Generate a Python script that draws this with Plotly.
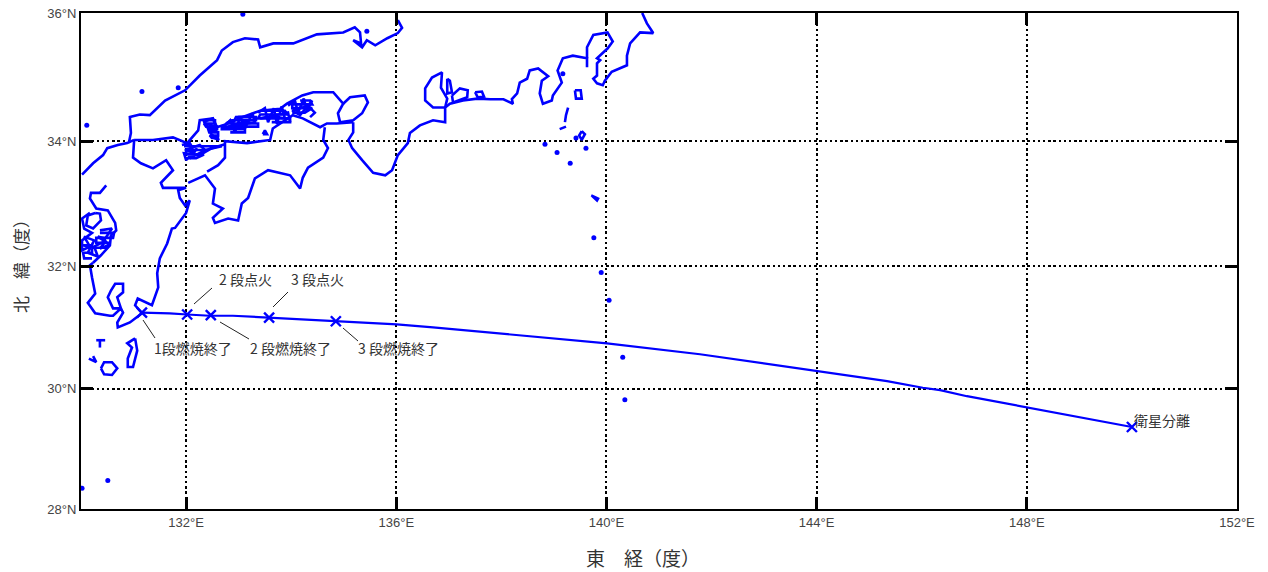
import math
import plotly.graph_objects as go

# Coast segments (longitude, latitude in degrees)
nw_kyushu_lon = [130.02,130.23,130.42,130.50,130.70,130.88,131.01]
nw_kyushu_lat = [33.47,33.65,33.78,33.89,33.94,33.97,34.02]
sanin_lon = [130.91,130.95,130.93,131.12,131.31,131.60,131.98,132.26,132.59,132.68,132.89,133.12,133.37,133.41,133.66,134.04,134.49,134.99,135.21,135.31,135.33,135.18,135.35,135.44,135.60,135.83,136.03,136.11,136.03]
sanin_lat = [33.97,34.13,34.38,34.42,34.41,34.64,34.80,35.03,35.27,35.42,35.55,35.61,35.59,35.47,35.53,35.53,35.67,35.70,35.78,35.70,35.53,35.58,35.47,35.58,35.50,35.61,35.69,35.77,35.89]
sanyo_lon = [131.01,131.37,131.75,132.02,132.23,132.26,132.51,132.59,132.70,133.08,133.41,133.79,133.92,134.21,134.42,134.80,134.99,134.89,134.93]
sanyo_lat = [34.02,34.02,34.06,33.97,34.17,34.33,34.36,34.22,34.25,34.38,34.48,34.51,34.59,34.72,34.77,34.77,34.59,34.44,34.30]
awaji_lon = [134.99,135.12,135.40,135.46,135.35,135.18,134.93]
awaji_lat = [34.59,34.69,34.72,34.61,34.44,34.33,34.30]
south_lon = [135.18,135.18,135.09,135.16,135.35,135.56,135.79,135.92,136.03,136.22,136.26,136.45,136.70,136.93,136.93,137.02,137.27,137.54,137.79,138.04,138.22,138.20,138.30,138.35,138.49,138.54,138.70,138.79,138.89,138.77,138.73,138.79,138.96,138.98,139.15,139.07,139.17,139.36,139.63,139.63]
south_lat = [34.30,34.14,34.02,33.89,33.70,33.50,33.46,33.54,33.78,33.97,34.13,34.25,34.33,34.30,34.53,34.59,34.64,34.67,34.66,34.66,34.59,34.66,34.75,34.92,34.98,35.11,35.14,35.08,35.02,34.95,34.75,34.59,34.64,34.72,34.92,35.11,35.30,35.34,35.30,35.16]
ise_lon = [136.93,136.70,136.55,136.55,136.68,136.87,136.85,136.97,136.93]
ise_lat = [34.53,34.53,34.64,34.83,35.00,35.08,34.84,34.67,34.53]
mikawa_lon = [136.97,137.02,137.06,136.97,136.97]
mikawa_lat = [34.98,34.95,34.77,34.75,34.98]
atsumi_lon = [137.06,137.21,137.36,137.35,137.08,137.06]
atsumi_lat = [34.72,34.83,34.80,34.69,34.61,34.72]
hamana_lon = [137.50,137.63,137.67,137.55,137.50]
hamana_lat = [34.77,34.78,34.70,34.69,34.77]
kanto_lon = [139.63,139.63,139.75,140.02,140.12,140.02,139.82,139.88,139.82,139.82,139.75,139.82,139.93,139.97,140.10,140.39,140.39,140.45,140.64,140.89,140.77,140.68]
kanto_lat = [35.30,35.47,35.66,35.70,35.56,35.45,35.30,35.27,35.22,35.03,34.98,34.91,34.88,34.95,35.09,35.19,35.34,35.53,35.70,35.69,35.84,36.00]
shikoku_n_lon = [132.40,132.61,132.74,132.74,132.74,133.16,133.60,133.65,133.79,134.03,134.22,134.55,134.68,134.87,135.18]
shikoku_n_lat = [33.52,33.62,33.74,33.90,34.00,33.97,34.02,34.20,34.28,34.41,34.36,34.22,34.28,34.28,34.30]
shikoku_s_lon = [134.64,134.61,134.70,134.61,134.32,134.22,134.17,133.98,133.56,133.31,133.18,133.06,132.99,132.80,132.55,132.51,132.70,132.51,132.55,132.36,132.04]
shikoku_s_lat = [34.22,34.02,33.89,33.74,33.58,33.42,33.25,33.46,33.54,33.41,33.10,33.01,32.74,32.77,32.70,32.78,32.93,33.01,33.25,33.46,33.34]
kyushu_e_lon = [131.01,130.99,131.14,131.37,131.62,131.75,131.52,131.56,132.00,131.85,131.88,131.98,132.07,132.00,131.79,131.73,131.64,131.50,131.45,131.47,131.35,131.26,131.08,131.03,131.16,130.93,130.70,130.69,130.80,130.76,130.61,130.51,130.57,130.65,130.80,130.80,130.69,130.76,130.61,130.55,130.27,130.13,130.27,130.21,130.17,130.23]
kyushu_e_lat = [34.00,33.74,33.65,33.57,33.70,33.54,33.34,33.26,33.26,33.22,33.10,32.98,33.06,32.86,32.62,32.61,32.37,32.13,31.89,31.66,31.37,31.41,31.48,31.37,31.24,31.09,31.01,31.09,31.25,31.32,31.32,31.50,31.61,31.72,31.72,31.58,31.50,31.32,31.20,31.20,31.24,31.41,31.56,31.82,32.02,32.06]
kyushu_w_lon = [130.48,130.36,130.19,130.17,130.29,130.51,130.65,130.67,130.57,130.55,130.38,130.23]
kyushu_w_lat = [33.30,33.18,33.18,33.09,32.93,32.90,32.70,32.58,32.50,32.34,32.18,32.06]
ariake_lon = [130.27,130.13,130.10,130.23,130.38,130.36,130.27]
ariake_lat = [32.86,32.82,32.66,32.61,32.74,32.85,32.86]
amakusa_lon = [130.36,130.59,130.46,130.32,130.55,130.36,130.48,130.25,130.32,130.13,130.25,130.06,130.17,130.02,130.02,130.21,130.06,130.02,130.17]
amakusa_lat = [32.58,32.61,32.45,32.48,32.35,32.29,32.42,32.32,32.16,32.22,32.42,32.48,32.32,32.26,32.42,32.54,32.61,32.77,32.86]
amakusa_b_lon = [130.36,130.63,130.61,130.29,130.29,130.55,130.49,130.21,130.04,130.21,130.21,130.04,130.06,130.21]
amakusa_b_lat = [32.54,32.54,32.46,32.46,32.38,32.38,32.30,32.30,32.34,32.34,32.22,32.22,32.13,32.13]
seto_a_lon = [132.32,132.51,132.57,132.36,132.45,132.59,132.42,132.51,132.63,132.48,132.57]
seto_a_lat = [34.30,34.36,34.23,34.28,34.17,34.16,34.22,34.06,34.02,34.11,34.05]
seto_a2_lon = [132.36,132.55,132.55,132.34,132.38,132.59,132.59,132.42,132.44,132.61,132.61,132.45,132.49,132.63]
seto_a2_lat = [34.33,34.33,34.28,34.28,34.23,34.23,34.19,34.19,34.14,34.14,34.09,34.09,34.05,34.05]
seto_b_lon = [132.68,132.84,132.93,133.03,133.12,133.26,133.31,132.99,132.80,133.08,133.22,132.87,132.95,133.18]
seto_b_lat = [34.20,34.33,34.14,34.39,34.20,34.44,34.30,34.25,34.23,34.30,34.33,34.25,34.38,34.39]
seto_b2_lon = [132.99,133.33,133.33,132.87,132.76,133.37,133.37,132.68,132.68,133.12,133.12,132.84]
seto_b2_lat = [34.38,34.38,34.33,34.33,34.28,34.28,34.23,34.23,34.19,34.19,34.14,34.14]
seto_c_lon = [133.37,133.50,133.56,133.67,133.73,133.82,133.88,133.63,133.41,133.94,133.98]
seto_c_lat = [34.45,34.52,34.30,34.52,34.27,34.55,34.36,34.39,34.36,34.45,34.30]
seto_c2_lon = [133.44,133.88,133.94,133.41,133.37,133.98,133.98,133.63]
seto_c2_lat = [34.48,34.48,34.42,34.42,34.36,34.36,34.30,34.30]
seto_d_lon = [133.94,134.07,134.13,134.24,134.30,134.40,134.17,134.02,134.32,134.45,134.36]
seto_d_lat = [34.56,34.64,34.45,34.67,34.48,34.64,34.41,34.48,34.56,34.45,34.38]
seto_d2_lon = [134.17,134.36,134.40,134.02,134.02,134.40,134.26,134.02]
seto_d2_lat = [34.64,34.64,34.58,34.58,34.52,34.52,34.45,34.45]
seto_e_lon = [131.92,132.07,132.17,131.98,132.26,132.36,132.07,132.21,132.00,131.96,132.26,132.49,132.74]
seto_e_lat = [33.94,33.97,33.82,33.86,33.94,33.86,33.73,33.89,33.70,33.81,33.78,33.89,33.95]
seto_e2_lon = [131.96,132.68,132.36,132.00,132.00,132.34,132.19,132.00]
seto_e2_lat = [33.92,33.92,33.86,33.86,33.79,33.79,33.73,33.73]
seto_f_lon = [133.46,133.50,133.54,133.46]
seto_f_lat = [34.11,34.17,34.11,34.11]
tanega_lon = [131.03,131.07,130.99,130.89,130.89,130.97,130.88,131.03]
tanega_lat = [30.83,30.63,30.36,30.36,30.50,30.68,30.75,30.83]
yaku_lon = [130.38,130.44,130.59,130.69,130.59,130.44,130.38]
yaku_lat = [30.34,30.44,30.44,30.34,30.23,30.24,30.34]
erabu_lon = [130.15,130.29,130.23]
erabu_lat = [30.50,30.44,30.54]
take_a_lon = [130.29,130.46]
take_a_lat = [30.80,30.80]
take_b_lon = [130.36,130.36]
take_b_lat = [30.80,30.68]
oshima_lon = [139.40,139.51,139.53,139.42,139.40]
oshima_lat = [34.80,34.80,34.67,34.67,34.80]
niijima_lon = [139.27,139.23,139.21]
niijima_lat = [34.53,34.41,34.30]
kozu_lon = [139.11,139.23]
kozu_lat = [34.19,34.23]
miyake_lon = [139.53,139.59,139.53,139.48,139.53]
miyake_lat = [34.16,34.11,34.02,34.09,34.16]
hachijo_lon = [139.71,139.84,139.82,139.73]
hachijo_lat = [33.14,33.09,33.06,33.13]

segments = [
    (nw_kyushu_lon, nw_kyushu_lat), (sanin_lon, sanin_lat), (sanyo_lon, sanyo_lat),
    (awaji_lon, awaji_lat), (south_lon, south_lat), (ise_lon, ise_lat),
    (mikawa_lon, mikawa_lat), (atsumi_lon, atsumi_lat), (hamana_lon, hamana_lat),
    (kanto_lon, kanto_lat), (shikoku_n_lon, shikoku_n_lat), (shikoku_s_lon, shikoku_s_lat),
    (kyushu_e_lon, kyushu_e_lat), (kyushu_w_lon, kyushu_w_lat), (ariake_lon, ariake_lat),
    (amakusa_lon, amakusa_lat), (amakusa_b_lon, amakusa_b_lat),
    (seto_a_lon, seto_a_lat), (seto_a2_lon, seto_a2_lat), (seto_b_lon, seto_b_lat), (seto_b2_lon, seto_b2_lat),
    (seto_c_lon, seto_c_lat), (seto_c2_lon, seto_c2_lat), (seto_d_lon, seto_d_lat), (seto_d2_lon, seto_d2_lat),
    (seto_e_lon, seto_e_lat), (seto_e2_lon, seto_e2_lat),
    (seto_f_lon, seto_f_lat), (tanega_lon, tanega_lat), (yaku_lon, yaku_lat),
    (erabu_lon, erabu_lat), (take_a_lon, take_a_lat), (take_b_lon, take_b_lat),
    (oshima_lon, oshima_lat), (niijima_lon, niijima_lat), (kozu_lon, kozu_lat),
    (miyake_lon, miyake_lat), (hachijo_lon, hachijo_lat),
]

# Small islands drawn as single dots
islet_lon = [131.16,130.11,133.08,131.85,135.44,130.51,130.02,139.17,139.42,139.61,138.83,139.06,139.31,139.76,139.90,140.05,140.31,140.35]
islet_lat = [34.78,34.25,35.98,34.84,35.72,28.48,28.35,35.06,34.05,33.89,33.95,33.82,33.65,32.46,31.90,31.45,30.52,29.82]

# Flight path
track_lon = [131.16,131.69,132.02,132.45,132.89,133.56,134.11,134.87,135.37,136.01,136.70,137.97,140.01,141.78,143.69,144.01,144.69,145.34,146.02,146.35,146.86,147.49,148.00,148.76,149.39,150.00]
track_lat = [31.25,31.24,31.22,31.20,31.20,31.17,31.15,31.11,31.09,31.06,31.01,30.91,30.75,30.57,30.34,30.29,30.21,30.13,30.02,29.98,29.88,29.78,29.70,29.58,29.47,29.37]

# Flight events
event_lon = [131.16,132.02,132.47,133.58,134.85,150.00]
event_lat = [31.25,31.22,31.21,31.17,31.11,29.37]

x_ticks = [132,136,140,144,148,152]
x_tick_labels = ["132°E","136°E","140°E","144°E","148°E","152°E"]
y_ticks = [28,30,32,34,36]
y_tick_labels = ["28°N","30°N","32°N","34°N","36°N"]


def merc(lat):
    return math.log(math.tan(math.pi / 4 + math.radians(lat) / 2))


coast_x, coast_y = [], []
for lons, lats in segments:
    coast_x += list(lons) + [None]
    coast_y += [merc(v) for v in lats] + [None]

BLUE = "#0000ff"
fig = go.Figure()
fig.add_trace(go.Scatter(x=coast_x, y=coast_y, mode="lines", line=dict(color=BLUE, width=2.6), name="海岸線", connectgaps=False))
fig.add_trace(go.Scatter(x=islet_lon, y=[merc(v) for v in islet_lat], mode="markers", marker=dict(color=BLUE, size=5), name="島"))
fig.add_trace(go.Scatter(x=track_lon, y=[merc(v) for v in track_lat], mode="lines", line=dict(color=BLUE, width=2.2), name="飛行経路"))
fig.add_trace(go.Scatter(x=event_lon, y=[merc(v) for v in event_lat], mode="markers",
                         marker=dict(symbol="x-thin", size=10, color=BLUE, line=dict(color=BLUE, width=2.4)), name="イベント"))

L, R, T, B = 81, 1237, 13, 509
W, H = 1268, 572


def fx(px):
    return (px - L) / (R - L)


def fy(py):
    return (B - py) / (B - T)


labels = [
    ("1段燃焼終了", 193, 348), ("2 段燃焼終了", 290, 348), ("3 段燃焼終了", 398, 348),
    ("2 段点火", 245, 279), ("3 段点火", 317, 279), ("衛星分離", 1162, 420),
]
annotations = [dict(text=t, x=fx(px), y=fy(py), xref="paper", yref="paper", showarrow=False,
                    xanchor="center", yanchor="middle",
                    font=dict(family="Noto Sans CJK JP", size=14, color="#333333")) for t, px, py in labels]
annotations += [
    dict(text="東　経（度）", x=fx(643), y=fy(557), xref="paper", yref="paper", showarrow=False,
         xanchor="center", yanchor="middle", font=dict(family="Noto Sans CJK JP", size=19, color="#333333")),
    dict(text="北　緯（度）", x=fx(20), y=fy(262), xref="paper", yref="paper", showarrow=False, textangle=-90,
         xanchor="center", yanchor="middle", font=dict(family="Noto Sans CJK JP", size=17, color="#333333")),
]

leaders = [(143, 320, 155, 338), (194, 304, 212, 288), (220, 322, 249, 339), (273, 307, 288, 292), (343, 328, 358, 341)]
shapes = [dict(type="line", xref="paper", yref="paper", x0=fx(a), y0=fy(b), x1=fx(c), y1=fy(d),
               line=dict(color="#222222", width=1)) for a, b, c, d in leaders]

axis_common = dict(showgrid=True, gridcolor="#000000", gridwidth=2.4, griddash="2.4px,2.8px",
                   ticks="inside", ticklen=12, tickwidth=3, tickcolor="#000000",
                   showline=True, linecolor="#000000", linewidth=2, mirror="ticks", zeroline=False, automargin=False,
                   ticklabeloverflow="allow",
                   tickfont=dict(family="Liberation Sans", size=13, color="#444444"))

fig.update_layout(
    width=W, height=H, margin=dict(l=L, r=W - R, t=T, b=H - B, pad=0),
    paper_bgcolor="white", plot_bgcolor="white", showlegend=False,
    annotations=annotations, shapes=shapes,
    xaxis=dict(range=[130, 152], tickmode="array", tickvals=x_ticks, ticktext=x_tick_labels, **axis_common),
    yaxis=dict(range=[merc(28), merc(36)], tickmode="array", tickvals=[merc(v) for v in y_ticks], ticktext=y_tick_labels, **axis_common),
)
fig.write_html("out.html", config={"displayModeBar": False},
               post_script="document.body.style.margin='0';document.documentElement.style.overflow='hidden';")
